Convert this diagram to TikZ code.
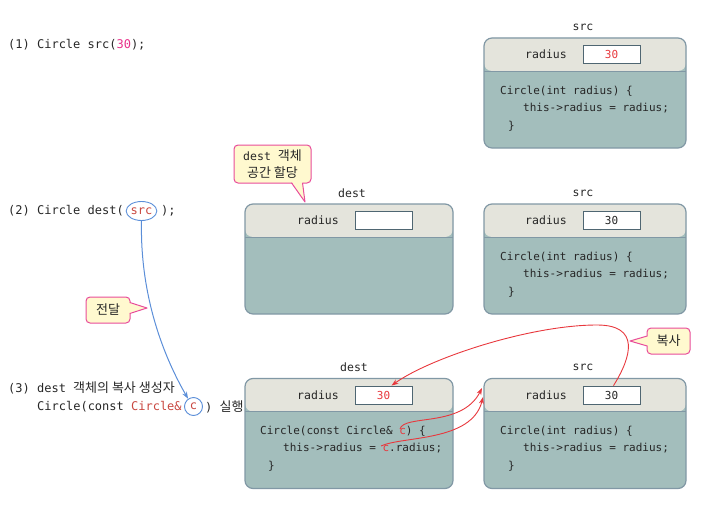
\documentclass[tikz,border=0pt]{standalone}
\usepackage{fontspec}
\setmainfont{DejaVu Sans}
\setmonofont{DejaVu Sans Mono}
\newfontfamily\kr{Noto Sans CJK KR}
\newcommand{\krt}[1]{{\kr\fontsize{13}{16}\selectfont #1}}
\usetikzlibrary{arrows.meta,shapes.geometric}
\definecolor{hdr}{HTML}{E4E4DC}
\definecolor{bdy}{HTML}{A3BEBC}
\definecolor{bord}{HTML}{8198A5}
\definecolor{txt}{HTML}{262626}
\definecolor{cred}{HTML}{E8383D}
\definecolor{cdred}{HTML}{C8463F}
\definecolor{cpink}{HTML}{E8308A}
\definecolor{cblue}{HTML}{5B8ED8}
\definecolor{cofill}{HTML}{FFF9CF}
\definecolor{coline}{HTML}{E84C9A}
\definecolor{valb}{HTML}{4F6672}
\tikzset{
  objbox/.style={draw=bord, line width=1.2pt, fill=bdy, rounded corners=8pt,
    minimum width=#1, minimum height=110pt, inner sep=0pt,
    path picture={
      \fill[hdr] (path picture bounding box.north west) rectangle ([yshift=-33pt]path picture bounding box.north east);
      \draw[bord, line width=1pt] ([yshift=-33pt]path picture bounding box.north west) -- ([yshift=-33pt]path picture bounding box.north east);
    }},
  valbox/.style={draw=valb, line width=0.8pt, fill=white, minimum width=57pt,
    minimum height=18pt, inner sep=0pt, text=txt, font=\ttfamily\fontsize{11}{13}\selectfont},
  hdrtext/.style={inner sep=0pt, text=txt, font=\ttfamily\fontsize{11.5}{13}\selectfont},
  code/.style={anchor=west, inner sep=0pt, text=txt, font=\ttfamily\fontsize{11}{13}\selectfont},
  lbl/.style={anchor=west, inner sep=0pt, text=txt, font=\ttfamily\fontsize{12}{14}\selectfont},
  callout/.style={draw=coline, line width=1pt, fill=cofill, rounded corners=4pt,
    inner sep=0pt, text=txt, align=center, font=\ttfamily\fontsize{11.5}{17}\selectfont},
  cotip/.style={draw=coline, line width=1pt, line join=round},
  redarrow/.style={draw=cred, line width=0.9pt, -{Stealth[length=7pt,width=5pt]}},
  bluearrow/.style={draw=cblue, line width=1pt, -{Stealth[length=7pt,width=5pt]}},
}
\begin{document}
\begin{tikzpicture}[x=1pt,y=-1pt]
\useasboundingbox (0,0) rectangle (709,511);

% ---------- row 1 ----------
\node[lbl] (r1) at (8,45) {(1) Circle src(\textcolor{cpink}{30});};
\node[objbox=202pt] (s1) at (585,93) {};
\node[hdrtext] (s1t) at (583,27) {src};
\node[hdrtext] (s1r) at (546,54.5) {radius};
\node[valbox] (s1v) at (611.5,54.5) {\textcolor{cred}{30}};
\node[code] (s1a) at (500,91) {Circle(int radius) \{};
\node[code] (s1b) at (523,108) {this->radius = radius;};
\node[code] (s1c) at (508,126) {\}};

% ---------- row 2 ----------
\node[lbl] (r2a) at (8,211) {(2) Circle dest(};
\node[draw=cblue, line width=0.9pt, ellipse, minimum width=30pt, minimum height=19pt, inner sep=0pt,
      text=cdred, font=\ttfamily\fontsize{12}{14}\selectfont] (srcE) at (141.5,211) {src};
\node[lbl] (r2b) at (161,211) {);};

\node[objbox=208pt] (d2) at (349,259) {};
\node[hdrtext] (d2t) at (352,193) {dest};
\node[hdrtext] (d2r) at (318,220.5) {radius};
\node[valbox] (d2v) at (383.5,220.5) {};

\node[objbox=202pt] (s2) at (585,259) {};
\node[hdrtext] (s2t) at (583,193) {src};
\node[hdrtext] (s2r) at (546,220.5) {radius};
\node[valbox] (s2v) at (611.5,220.5) {30};
\node[code] (s2a) at (500,257) {Circle(int radius) \{};
\node[code] (s2b) at (523,274) {this->radius = radius;};
\node[code] (s2c) at (508,292) {\}};

% ---------- row 3 ----------
\node[lbl] (r3a) at (8,388) {(3) dest \krt{객체의 복사 생성자}};
\node[lbl] (r3b) at (37,406.5) {Circle(const \textcolor{cdred}{Circle\&}};
\node[draw=cblue, line width=0.9pt, circle, minimum size=18pt, inner sep=0pt,
      text=cdred, font=\ttfamily\fontsize{12}{14}\selectfont] (cc) at (193.5,406.5) {c};
\node[lbl] (r3c) at (205,406.5) {) \krt{실행}};

\node[objbox=208pt] (d3) at (349,433.5) {};
\node[hdrtext] (d3t) at (354,367) {dest};
\node[hdrtext] (d3r) at (318,395) {radius};
\node[valbox] (d3v) at (383.5,395) {\textcolor{cred}{30}};
\node[code] (d3a) at (260,431) {Circle(const Circle\& \textcolor{cred}{c}) \{};
\node[code] (d3b) at (283,448) {this->radius = \textcolor{cred}{c}.radius;};
\node[code] (d3c) at (268,466) {\}};

\node[objbox=202pt] (s3) at (585,433.5) {};
\node[hdrtext] (s3t) at (583,367) {src};
\node[hdrtext] (s3r) at (546,395) {radius};
\node[valbox] (s3v) at (611.5,395) {30};
\node[code] (s3a) at (500,431) {Circle(int radius) \{};
\node[code] (s3b) at (523,448) {this->radius = radius;};
\node[code] (s3c) at (508,466) {\}};

% ---------- connectors ----------
\draw[bluearrow] (srcE.south) .. controls (140,290) and (160,350) .. (cc.125);

\coordinate (ca) at (400,429);
\coordinate (cb) at (381,446);
\coordinate (ta) at (482,388);
\coordinate (tb) at (483,397);
\draw[redarrow] (ca) .. controls (404,414) and (462,428) .. (ta);
\draw[redarrow] (cb) .. controls (402,436) and (472,442) .. (tb);
\coordinate (top) at (597,325);
\draw[redarrow] ([xshift=2pt]s3v.north) .. controls (632,356) and (640,325) .. (top)
      .. controls (530,325) and (430,358) .. ([xshift=8pt]d3v.north);

% ---------- callouts ----------
\node[callout, minimum width=77pt, minimum height=38pt] (co1) at (272.5,164)
  {dest \krt{객체}\\\krt{공간 할당}};
\coordinate (co1tip) at (305,202);
\fill[cofill] (291.5,181.5) -- (co1tip) -- (302.5,181.5) -- cycle;
\draw[cotip] (291.5,182.8) -- (co1tip) -- (302.5,182.8);

\node[callout, minimum width=44pt, minimum height=26pt] (co2) at (108,310) {\krt{전달}};
\coordinate (co2tip) at (147,308);
\fill[cofill] (128.5,302.5) -- (co2tip) -- (128.5,313.5) -- cycle;
\draw[cotip] (129.8,302.5) -- (co2tip) -- (129.8,313.5);

\node[callout, minimum width=43pt, minimum height=26pt] (co3) at (668.5,341) {\krt{복사}};
\coordinate (co3tip) at (630,341);
\fill[cofill] (648.5,336) -- (co3tip) -- (648.5,346) -- cycle;
\draw[cotip] (647.2,336) -- (co3tip) -- (647.2,346);
\end{tikzpicture}
\end{document}
